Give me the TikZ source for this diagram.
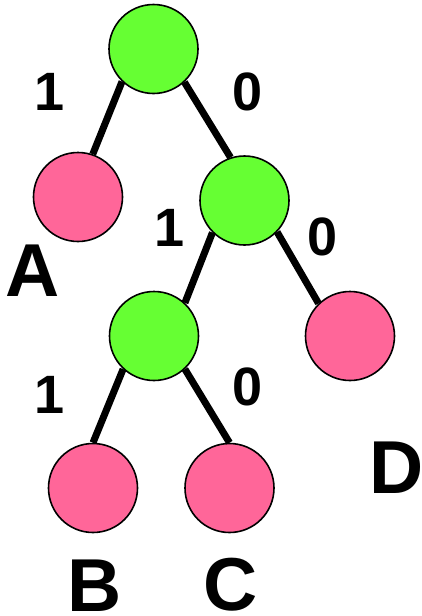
\documentclass[tikz,border=0pt]{standalone}
\usepackage{fontspec}
\setmainfont{Liberation Sans}
\definecolor{inner}{HTML}{66FF33}
\definecolor{leaf}{HTML}{FF6699}
\begin{document}
\begin{tikzpicture}[x=1pt,y=-1pt,
  treenode/.style={circle,draw=black,line width=1.6pt,minimum size=89pt,inner sep=0pt},
  innernode/.style={treenode,fill=inner},
  leafnode/.style={treenode,fill=leaf},
  edge/.style={line width=7pt},
  bitlabel/.style={font=\fontsize{54}{54}\selectfont\bfseries,inner sep=0pt},
  namelabel/.style={font=\fontsize{75}{75}\selectfont\bfseries,inner sep=0pt}]
\useasboundingbox (0,0) rectangle (421,616);
\node[innernode] (r) at (153.5,49) {};
\node[leafnode] (a) at (78,197) {};
\node[innernode] (g2) at (244.5,200.5) {};
\node[innernode] (g3) at (154,336) {};
\node[leafnode] (d) at (350,336) {};
\node[leafnode] (b) at (93,488) {};
\node[leafnode] (c) at (229.5,488) {};
\draw[edge] (r.226) -- (a.71);
\draw[edge] (r.313) -- (g2.108);
\draw[edge] (g2.225) -- (g3.47);
\draw[edge] (g2.316) -- (d.134);
\draw[edge] (g3.227) -- (b.90);
\draw[edge] (g3.313) -- (c.90);
\node[bitlabel] (l1) at (50,92) {1};
\node[bitlabel] (l2) at (248,92) {0};
\node[bitlabel] (l3) at (170,228) {1};
\node[bitlabel] (l4) at (323,237) {0};
\node[bitlabel] (l5) at (50,395) {1};
\node[bitlabel] (l6) at (248,387) {0};
\node[namelabel] (ta) at (33,271) {A};
\node[namelabel] (td) at (397,468) {D};
\node[namelabel] (tb) at (95,586) {B};
\node[namelabel] (tc) at (231,585) {C};
\end{tikzpicture}
\end{document}
